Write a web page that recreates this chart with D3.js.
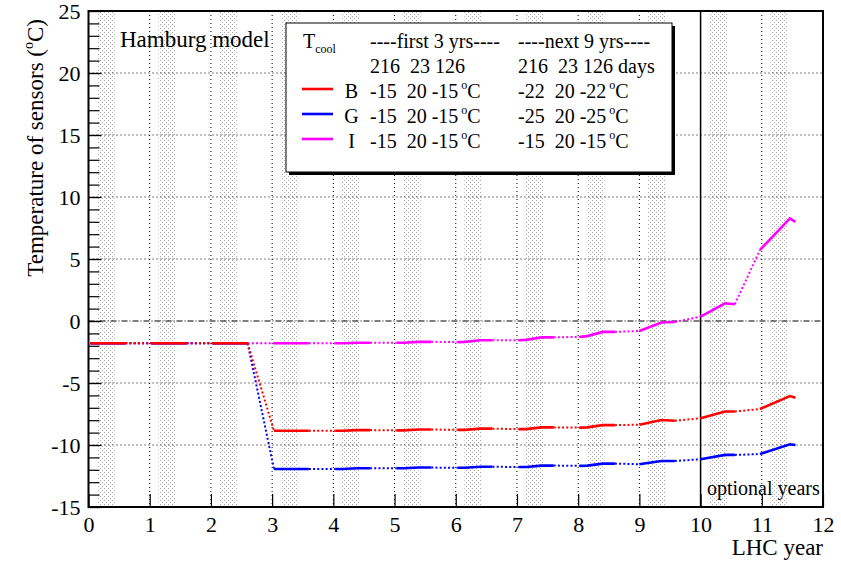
<!DOCTYPE html>
<html><head><meta charset="utf-8">
<script src="https://cdn.jsdelivr.net/npm/d3@7"></script>
<style>
body{margin:0;background:#fff;}
text{font-family:"Liberation Serif","Times New Roman",serif !important;fill:#000;white-space:pre;}
</style></head>
<body><svg id="c" width="841" height="563"></svg>
<script>
// ---- data ----
const t = [0.03,0.6,1.03,1.6,2.03,2.6,3.03,3.15,3.4,3.6,4.03,4.15,4.4,4.6,5.03,5.15,5.4,5.6,6.03,6.15,6.4,6.6,7.03,7.15,7.4,7.6,8.03,8.15,8.4,8.6,9.0,9.36,9.58,10.0,10.4,10.56,10.97,11.46,11.55];
const seriesB = [-1.8,-1.8,-1.8,-1.8,-1.8,-1.8,-8.85,-8.85,-8.85,-8.85,-8.85,-8.85,-8.8,-8.8,-8.82,-8.82,-8.75,-8.75,-8.78,-8.78,-8.68,-8.68,-8.72,-8.72,-8.58,-8.58,-8.6,-8.58,-8.4,-8.4,-8.36,-7.98,-8.04,-7.85,-7.3,-7.3,-7.1,-6.05,-6.18];
const seriesG = [-1.8,-1.8,-1.8,-1.8,-1.8,-1.8,-11.94,-11.94,-11.94,-11.94,-11.94,-11.94,-11.87,-11.87,-11.88,-11.88,-11.82,-11.82,-11.84,-11.84,-11.75,-11.75,-11.78,-11.78,-11.66,-11.66,-11.68,-11.66,-11.5,-11.5,-11.55,-11.29,-11.29,-11.15,-10.8,-10.8,-10.73,-9.95,-10.0];
const seriesI = [-1.8,-1.8,-1.8,-1.8,-1.8,-1.8,-1.8,-1.8,-1.8,-1.8,-1.8,-1.8,-1.75,-1.75,-1.75,-1.75,-1.68,-1.68,-1.7,-1.68,-1.55,-1.55,-1.55,-1.52,-1.32,-1.32,-1.28,-1.22,-0.88,-0.88,-0.8,-0.12,-0.08,0.35,1.43,1.35,5.73,8.28,8.0];
const solidStart = [0.03,1.03,2.03,3.03,4.03,5.03,6.03,7.03,8.03,9.0,10.0,10.97];
const solidEnd   = [0.6,1.6,2.6,3.6,4.6,5.6,6.6,7.6,8.6,9.58,10.56,11.55];
const bandStart = [0.14,1.14,2.14,3.14,4.14,5.14,6.14,7.14,8.14,9.14,10.14,11.14];
const bandEnd   = [0.43,1.43,2.43,3.43,4.43,5.43,6.43,7.43,8.43,9.43,10.43,11.43];
const xTicks = [0,1,2,3,4,5,6,7,8,9,10,11,12];
const yTicks = [-15,-10,-5,0,5,10,15,20,25];
const legendNames = ["B","G","I"];
const legendColors = ["#ff0000","#0000ff","#ff00ff"];
const legendFirst = ["-15  20 -15","-15  20 -15","-15  20 -15"];
const legendNext  = ["-22  20 -22","-25  20 -25","-15  20 -15"];

// ---- chart ----
const svg = d3.select("#c");
const L=88.5,R=823,T=11,B=507;
const x = d3.scaleLinear().domain([0,12]).range([L,R]);
const y = d3.scaleLinear().domain([-15,25]).range([B,T]);

const defs = svg.append("defs");
const pat = defs.append("pattern").attr("id","stip").attr("patternUnits","userSpaceOnUse")
  .attr("width",4).attr("height",4);
pat.append("rect").attr("x",0).attr("y",0).attr("width",1).attr("height",1).attr("fill","#a8a8a8");
pat.append("rect").attr("x",2).attr("y",2).attr("width",1).attr("height",1).attr("fill","#a8a8a8");

// bands
svg.append("g").selectAll("rect").data(bandStart).join("rect")
  .attr("x",d=>x(d)).attr("width",(d,i)=>x(bandEnd[i])-x(d))
  .attr("y",T).attr("height",B-T).attr("fill","url(#stip)");

// grid
const g = svg.append("g");
g.selectAll("line.vx").data(xTicks.filter(v=>v>0&&v<12&&v!==10)).join("line")
  .attr("x1",d=>x(d)).attr("x2",d=>x(d)).attr("y1",T).attr("y2",B)
  .attr("stroke","#000").attr("stroke-width",1).attr("stroke-dasharray","1,3");
g.selectAll("line.hy").data(yTicks.filter(v=>v>-15&&v<25&&v!==0)).join("line")
  .attr("y1",d=>y(d)).attr("y2",d=>y(d)).attr("x1",L).attr("x2",R)
  .attr("stroke","#000").attr("stroke-width",1).attr("stroke-dasharray","1,3");
g.append("line").attr("x1",L).attr("x2",R).attr("y1",y(0)).attr("y2",y(0))
  .attr("stroke","#000").attr("stroke-width",1.2).attr("stroke-dasharray","6,2,1,2");
g.append("line").attr("x1",x(10)).attr("x2",x(10)).attr("y1",T).attr("y2",B)
  .attr("stroke","#000").attr("stroke-width",1.5);

// series
const line = d3.line().x(d=>x(d[0])).y(d=>y(d[1]));
function drawSeries(vals,color){
  const pts = t.map((v,i)=>[v,vals[i]]);
  const gg = svg.append("g");
  for(let k=0;k<solidStart.length-1;k++){
    const seg = pts.filter(p=>p[0]>=solidEnd[k]-1e-9 && p[0]<=solidStart[k+1]+1e-9);
    gg.append("path").attr("d",line(seg)).attr("fill","none").attr("stroke",color)
      .attr("stroke-width",2).attr("stroke-dasharray","2,2.2");
  }
  for(let k=0;k<solidStart.length;k++){
    const seg = pts.filter(p=>p[0]>=solidStart[k]-1e-9 && p[0]<=solidEnd[k]+1e-9);
    gg.append("path").attr("d",line(seg)).attr("fill","none").attr("stroke",color)
      .attr("stroke-width",2.6);
  }
}
drawSeries(seriesI,"#ff00ff");
drawSeries(seriesG,"#0000ff");
drawSeries(seriesB,"#ff0000");

// axes
const fmt = d => String(d);
const xAxis = d3.axisBottom(x).tickValues(xTicks).tickSize(-13).tickPadding(9).tickFormat(fmt);
const gx = svg.append("g").attr("transform",`translate(0,${B})`).call(xAxis);
gx.attr("font-family",null).attr("font-size",null);
gx.select(".domain").remove();
gx.selectAll("line").attr("stroke","#000").attr("stroke-width",1.2);
gx.selectAll("text").attr("font-size",22);

const minor = d3.range(-15,26,1);
const gym = svg.append("g").attr("transform",`translate(${L},0)`)
  .call(d3.axisLeft(y).tickValues(minor).tickSize(-11).tickFormat(""));
gym.select(".domain").remove();
gym.selectAll("line").attr("stroke","#000").attr("stroke-width",1.2);
const gy = svg.append("g").attr("transform",`translate(${L},0)`)
  .call(d3.axisLeft(y).tickValues(yTicks).tickSize(-13).tickPadding(8).tickFormat(fmt));
gy.attr("font-family",null).attr("font-size",null);
gy.select(".domain").remove();
gy.selectAll("line").attr("stroke","#000").attr("stroke-width",1.2);
gy.selectAll("text").attr("font-size",22);

// frame
svg.append("rect").attr("x",L).attr("y",T).attr("width",R-L).attr("height",B-T)
  .attr("fill","none").attr("stroke","#000").attr("stroke-width",2);

// axis titles
svg.append("text").attr("x",R).attr("y",555).attr("text-anchor","end").attr("font-size",23).text("LHC year");
const yt = svg.append("text").attr("transform","translate(43,19) rotate(-90)")
  .attr("text-anchor","end").attr("font-size",23);
yt.append("tspan").text("Temperature of sensors (");
yt.append("tspan").attr("font-size",14).attr("dy",-10).text("o");
yt.append("tspan").attr("dy",10).text("C)");

svg.append("text").attr("x",120).attr("y",47).attr("font-size",23).text("Hamburg model");
svg.append("text").attr("x",707).attr("y",495).attr("font-size",20).text("optional years");

// legend
const lg = svg.append("g");
lg.append("rect").attr("x",289).attr("y",26).attr("width",386).attr("height",149).attr("fill","#000");
lg.append("rect").attr("x",286).attr("y",23).attr("width",386).attr("height",149)
  .attr("fill","#fff").attr("stroke","#000").attr("stroke-width",1);
const tc = lg.append("text").attr("x",303).attr("y",48).attr("font-size",20);
tc.append("tspan").text("T");
tc.append("tspan").attr("font-size",12).attr("dy",5).text("cool");
lg.append("text").attr("x",370).attr("y",48).attr("font-size",20).text("----first 3 yrs----");
lg.append("text").attr("x",518).attr("y",48).attr("font-size",20).text("----next 9 yrs----");
lg.append("text").attr("x",370).attr("y",73).attr("font-size",20).text("216  23 126");
lg.append("text").attr("x",518).attr("y",73).attr("font-size",20).text("216  23 126 days");
legendNames.forEach((n,i)=>{
  const yy = 98 + i*25;
  lg.append("line").attr("x1",302).attr("x2",333).attr("y1",yy-9).attr("y2",yy-9)
    .attr("stroke",legendColors[i]).attr("stroke-width",2.6);
  lg.append("text").attr("x",351.5).attr("y",yy).attr("text-anchor","middle").attr("font-size",20).text(n);
  [[370,legendFirst[i]],[518,legendNext[i]]].forEach(([xx,s])=>{
    const tx = lg.append("text").attr("x",xx).attr("y",yy).attr("font-size",20);
    tx.append("tspan").text(s);
    tx.append("tspan").attr("dx",3).attr("dy",-9).attr("font-size",12).text("o");
    tx.append("tspan").attr("dy",9).text("C");
  });
});
</script></body></html>
